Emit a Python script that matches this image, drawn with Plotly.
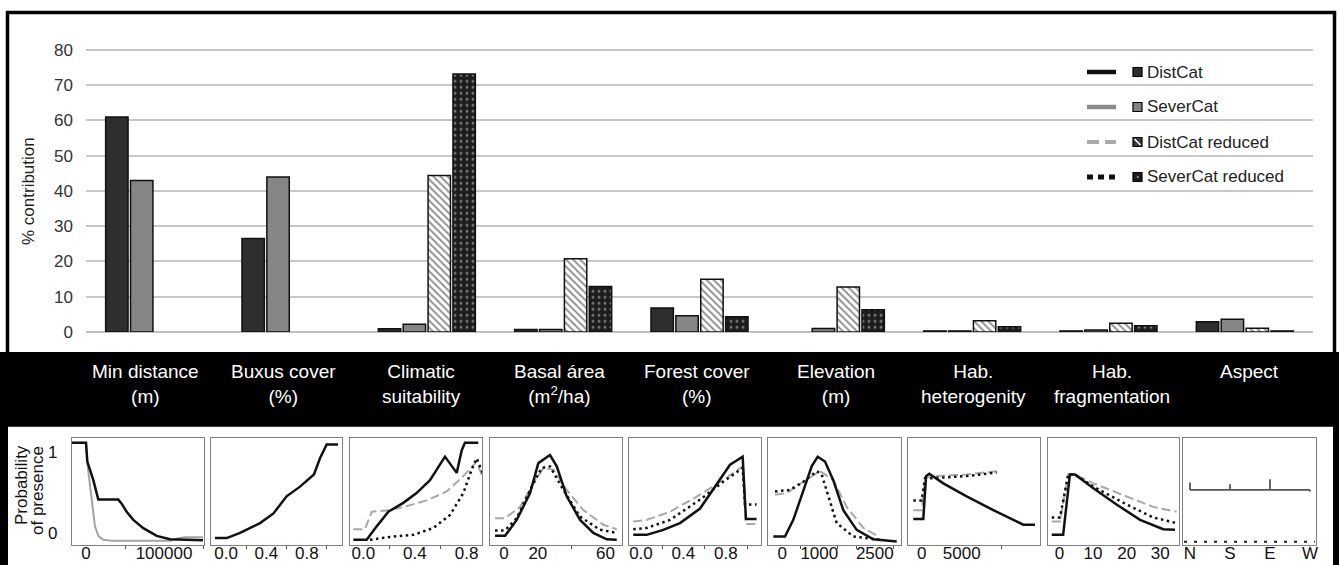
import plotly.graph_objects as go

W, H = 1339, 565
FONT = "Arial, Liberation Sans, sans-serif"

# ---------------- contribution of each variable (%) ----------------
categories = ["Min distance<br>(m)", "Buxus cover<br>(%)", "Climatic<br>suitability",
              "Basal área<br>(m<sup>2</sup>/ha)", "Forest cover<br>(%)", "Elevation<br>(m)",
              "Hab.<br>heterogenity", "Hab.<br>fragmentation", "Aspect"]
distcat = [61.0, 26.5, 0.9, 0.7, 6.8, None, 0.3, 0.3, 2.9]
severcat = [43.0, 44.0, 2.2, 0.7, 4.6, 1.0, 0.3, 0.6, 3.6]
distcat_red = [None, None, 44.4, 20.8, 15.0, 12.8, 3.2, 2.5, 1.1]
severcat_red = [None, None, 73.2, 12.9, 4.3, 6.3, 1.5, 1.8, 0.3]
y_ticks = [0, 10, 20, 30, 40, 50, 60, 70, 80]

# ---------------- response curves (probability of presence) ----------------
# Min distance (m)
md_dc_x = [-17900, 0, 1700, 9400, 15800, 41400, 45700, 52100, 60700, 73500, 90600, 107700, 150000]
md_dc_y = [1.11, 1.11, 0.88, 0.65, 0.41, 0.41, 0.36, 0.26, 0.16, 0.058, -0.037, -0.078, -0.09]
md_sc_x = [-17900, 0, 1700, 5100, 8500, 11500, 15800, 22200, 35000, 107700, 118300, 126900, 150000]
md_sc_y = [1.11, 1.11, 0.86, 0.57, 0.28, 0.08, -0.037, -0.086, -0.099, -0.099, -0.065, -0.053, -0.053]
# Buxus cover (%)
bx_dc_x = [-0.11, 0.007, 0.139, 0.337, 0.47, 0.6, 0.733, 0.871, 0.931, 0.997, 1.11]
bx_dc_y = [-0.065, -0.065, 0.0, 0.12, 0.24, 0.45, 0.57, 0.72, 0.92, 1.09, 1.09]
# Climatic suitability
cs_dc_x = [-0.077, 0.026, 0.104, 0.194, 0.31, 0.413, 0.517, 0.633, 0.724, 0.763, 0.788, 0.891]
cs_dc_y = [-0.086, -0.086, 0.08, 0.26, 0.37, 0.49, 0.65, 0.94, 0.74, 1.02, 1.11, 1.11]
cs_dcr_x = [-0.077, 0.013, 0.065, 0.207, 0.336, 0.491, 0.646, 0.775, 0.879, 0.925]
cs_dcr_y = [0.045, 0.045, 0.26, 0.28, 0.33, 0.40, 0.51, 0.70, 0.88, 0.68]
cs_scr_x = [0.052, 0.207, 0.388, 0.543, 0.672, 0.775, 0.84, 0.879, 0.925]
cs_scr_y = [-0.086, -0.05, -0.025, 0.06, 0.22, 0.49, 0.78, 0.92, 0.74]
# Basal area (m2/ha)
ba_dc_x = [-5.3, 0.6, 7.5, 15.4, 20.3, 27.2, 31.2, 37.1, 45.0, 52.8, 60.8, 66.7]
ba_dc_y = [-0.037, -0.037, 0.16, 0.49, 0.86, 0.96, 0.82, 0.45, 0.16, 0.0, -0.08, -0.086]
ba_dcr_x = [-5.3, 0.6, 9.5, 17.3, 23.3, 29.2, 37.1, 46.9, 58.8, 66.7]
ba_dcr_y = [0.18, 0.18, 0.32, 0.61, 0.80, 0.78, 0.53, 0.28, 0.10, 0.045]
ba_scr_x = [-5.3, 0.6, 7.5, 16.4, 22.3, 27.2, 35.1, 45.0, 56.8, 66.7]
ba_scr_y = [0.03, 0.03, 0.18, 0.57, 0.80, 0.82, 0.53, 0.20, 0.037, 0.0]
# Forest cover (%)
fc_dc_x = [-0.073, 0.054, 0.21, 0.368, 0.557, 0.745, 0.84, 0.959, 0.981, 0.99, 1.09]
fc_dc_y = [-0.025, -0.025, 0.037, 0.12, 0.30, 0.65, 0.84, 0.94, 0.28, 0.17, 0.17]
fc_dcr_x = [-0.073, 0.054, 0.274, 0.557, 0.776, 0.959, 0.99, 1.09]
fc_dcr_y = [0.14, 0.16, 0.26, 0.47, 0.65, 0.82, 0.11, 0.11]
fc_scr_x = [-0.073, 0.054, 0.274, 0.557, 0.776, 0.959, 0.981, 1.09]
fc_scr_y = [0.045, 0.06, 0.16, 0.41, 0.63, 0.80, 0.35, 0.35]
# Elevation (m)
el_dc_x = [-243, 73, 297, 568, 795, 957, 1154, 1378, 1649, 2011, 2460, 3092]
el_dc_y = [-0.045, -0.045, 0.16, 0.53, 0.82, 0.94, 0.88, 0.65, 0.28, 0.037, -0.08, -0.107]
el_dcr_x = [-197, 119, 568, 1019, 1378, 1741, 2190, 2595]
el_dcr_y = [0.47, 0.49, 0.63, 0.76, 0.65, 0.32, 0.06, -0.045]
el_scr_x = [-197, 208, 568, 930, 1065, 1243, 1470, 1919, 2641]
el_scr_y = [0.51, 0.53, 0.63, 0.76, 0.72, 0.45, 0.12, -0.045, -0.086]
# Habitat heterogeneity
hh_dc_x = [-1050, 200, 540, 950, 2700, 5620, 8950, 12700, 14160]
hh_dc_y = [0.17, 0.17, 0.70, 0.73, 0.61, 0.45, 0.28, 0.10, 0.10]
hh_dcr_x = [-1050, 0, 410, 1450, 5620, 9370]
hh_dcr_y = [0.28, 0.28, 0.675, 0.70, 0.72, 0.76]
hh_scr_x = [-1050, 0, 410, 1450, 5620, 9370]
hh_scr_y = [0.40, 0.40, 0.675, 0.675, 0.70, 0.745]
# Habitat fragmentation
hf_dc_x = [-2.3, 1.1, 3.1, 4.6, 10.1, 17.0, 24.0, 30.9, 34.4]
hf_dc_y = [-0.025, -0.025, 0.72, 0.72, 0.55, 0.35, 0.16, 0.045, 0.037]
hf_dcr_x = [-2.3, 0.15, 2.6, 4.6, 10.1, 20.0, 27.9, 34.9]
hf_dcr_y = [0.14, 0.14, 0.72, 0.72, 0.61, 0.45, 0.32, 0.26]
hf_scr_x = [-2.3, 0.15, 2.6, 4.6, 10.1, 20.0, 27.9, 34.9]
hf_scr_y = [0.19, 0.19, 0.72, 0.72, 0.57, 0.35, 0.19, 0.12]
# Aspect (factor levels)
aspect_levels = ["N", "S", "E", "W"]
aspect_resp = [0.62, 0.60, 0.66, 0.51]
aspect_base = 0.53
aspect_red = [-0.11, -0.11, -0.11, -0.11]


def fx(px):
    return px / W


def fy(py):
    return 1 - py / H


LINE = {
    "dc": dict(color="#111111", width=2.5),
    "sc": dict(color="#a3a3a3", width=2),
    "dcr": dict(color="#a8a8a8", width=2, dash="9px,4px"),
    "scr": dict(color="#111111", width=2.5, dash="2.5px,3.5px"),
}

fig = go.Figure()

# ---------------- bar chart ----------------
bar_series = [
    ("DistCat", distcat, dict(color="#2e2e2e")),
    ("SeverCat", severcat, dict(color="#858585")),
    ("DistCat reduced", distcat_red,
     dict(color="white", pattern=dict(shape="\\", fgcolor="#222222", size=5, solidity=0.4))),
    ("SeverCat reduced", severcat_red,
     dict(color="#1c1c1c", pattern=dict(shape=".", fgcolor="#d0d0d0", size=6, solidity=0.2))),
]
for name, vals, mk in bar_series:
    mk = dict(mk, line=dict(color="#111111", width=1.5))
    fig.add_trace(go.Bar(x=categories, y=vals, name=name, marker=mk,
                         xaxis="x", yaxis="y", showlegend=False))

layout_axes = dict(
    xaxis=dict(domain=[fx(86), fx(1313)], categoryorder="array", categoryarray=categories,
               showticklabels=False, showgrid=False, zeroline=False, showline=False, ticks="",
               automargin=False),
    yaxis=dict(domain=[fy(332), fy(332 - 80.5 * 3.525)], range=[0, 80.5], tickvals=y_ticks,
               showgrid=True, gridcolor="#c8c8c8", gridwidth=1.5,
               zeroline=True, zerolinecolor="#c0c0c0", zerolinewidth=1.5,
               showline=False, ticks="", ticklabelstandoff=12, automargin=False,
               tickfont=dict(size=17, color="#333333", family=FONT)),
)

# ---------------- response-curve panels ----------------
# tv/tt: labelled tick positions and their text, mv: unlabelled tick marks
panels = [
    dict(px=(72, 203.5), xr=[-17950, 150640], tv=[0, 100000], tt=["0", "100000"], mv=[50000, 150000],
         series=[(md_sc_x, md_sc_y, "sc"), (md_dc_x, md_dc_y, "dc")]),
    dict(px=(211, 342), xr=[-0.149, 1.149], tv=[0, 0.4, 0.8], tt=["0.0", "0.4", "0.8"], mv=[0.2, 0.6, 1.0],
         series=[(bx_dc_x, bx_dc_y, "dc")]),
    dict(px=(350, 482), xr=[-0.103, 0.92], tv=[0, 0.4, 0.8], tt=["0.0", "0.4", "0.8"], mv=[0.2, 0.6],
         series=[(cs_dcr_x, cs_dcr_y, "dcr"), (cs_scr_x, cs_scr_y, "scr"), (cs_dc_x, cs_dc_y, "dc")]),
    dict(px=(490, 622), xr=[-8.3, 69.8], tv=[0, 20, 60], tt=["0", "20", "60"], mv=[40],
         series=[(ba_dcr_x, ba_dcr_y, "dcr"), (ba_scr_x, ba_scr_y, "scr"), (ba_dc_x, ba_dc_y, "dc")]),
    dict(px=(629, 761), xr=[-0.113, 1.132], tv=[0, 0.4, 0.8], tt=["0.0", "0.4", "0.8"], mv=[0.2, 0.6, 1.0],
         series=[(fc_dcr_x, fc_dcr_y, "dcr"), (fc_scr_x, fc_scr_y, "scr"), (fc_dc_x, fc_dc_y, "dc")]),
    dict(px=(768, 901), xr=[-386, 3208], tv=[0, 1000, 2500], tt=["0", "1000", "2500"],
         mv=[500, 1500, 2000, 3000],
         series=[(el_dcr_x, el_dcr_y, "dcr"), (el_scr_x, el_scr_y, "scr"), (el_dc_x, el_dc_y, "dc")]),
    dict(px=(908, 1040), xr=[-1712, 14787], tv=[0, 5000], tt=["0", "5000"], mv=[10000],
         series=[(hh_dcr_x, hh_dcr_y, "dcr"), (hh_scr_x, hh_scr_y, "scr"), (hh_dc_x, hh_dc_y, "dc")]),
    dict(px=(1048, 1179), xr=[-3.42, 35.6], tv=[0, 10, 20, 30], tt=["0", "10", "20", "30"], mv=[],
         series=[(hf_dcr_x, hf_dcr_y, "dcr"), (hf_scr_x, hf_scr_y, "scr"), (hf_dc_x, hf_dc_y, "dc")]),
]

PANEL_Y = [fy(545), fy(438)]
PANEL_YR = [-0.15, 1.17]
frame_axis = dict(showline=True, mirror=True, linecolor="#808080", linewidth=1.3,
                  showgrid=False, zeroline=False, automargin=False)
tick_font = dict(size=17, color="#111111", family=FONT)

for i, p in enumerate(panels):
    k = i + 2
    xa, ya = f"x{k}", f"y{k}"
    for xs, ys, kind in p["series"]:
        fig.add_trace(go.Scatter(x=xs, y=ys, mode="lines", line=LINE[kind],
                                 xaxis=xa, yaxis=ya, showlegend=False))
    layout_axes[f"xaxis{k}"] = dict(frame_axis, domain=[fx(p["px"][0]), fx(p["px"][1])], range=p["xr"],
                                    anchor=ya, tickmode="array", tickvals=p["tv"], ticktext=p["tt"],
                                    ticks="", tickangle=0,
                                    minor=dict(tickmode="array", tickvals=p["mv"], ticks="outside",
                                               ticklen=3, tickcolor="#555555", tickwidth=1),
                                    ticklabelstandoff=-8, tickfont=tick_font)
    yax = dict(frame_axis, domain=PANEL_Y, range=PANEL_YR, anchor=xa, showticklabels=False, ticks="")
    if i == 0:
        yax.update(showticklabels=True, tickvals=[0, 1], ticktext=["0", "1"], ticklabelstandoff=10,
                   tickfont=tick_font)
    layout_axes[f"yaxis{k}"] = yax

# Aspect panel: factor response drawn as spikes rising from a common baseline
asp_x, asp_y = [], []
for j, v in enumerate(aspect_resp):
    pos = j + 1
    asp_x += [pos, pos, None]
    asp_y += [v, aspect_base, None]
fig.add_trace(go.Scatter(x=asp_x, y=asp_y, mode="lines", line=dict(color="#555555", width=1.8),
                         xaxis="x10", yaxis="y10", showlegend=False))
fig.add_trace(go.Scatter(x=[1, 4], y=[aspect_base, aspect_base], mode="lines",
                         line=dict(color="#555555", width=1.8), xaxis="x10", yaxis="y10", showlegend=False))
fig.add_trace(go.Scatter(x=[0.85, 2, 3, 4.12], y=aspect_red, mode="lines",
                         line=dict(color="#222222", width=2, dash="3px,7px"),
                         xaxis="x10", yaxis="y10", showlegend=False))
layout_axes["xaxis10"] = dict(frame_axis, domain=[fx(1183), fx(1316)], range=[0.825, 4.15], anchor="y10",
                              tickmode="array", tickvals=[1, 2, 3, 4], ticktext=aspect_levels, ticks="",
                              tickangle=0, ticklabelstandoff=-8, tickfont=tick_font)
layout_axes["yaxis10"] = dict(frame_axis, domain=PANEL_Y, range=PANEL_YR, anchor="x10",
                              showticklabels=False, ticks="")

# ---------------- frame, band, legend ----------------
shapes = [
    dict(type="rect", xref="paper", yref="paper", x0=fx(7.5), x1=fx(1334.5), y0=fy(425), y1=fy(12.5),
         line=dict(color="black", width=3.5), fillcolor="rgba(0,0,0,0)"),
    dict(type="rect", xref="paper", yref="paper", x0=0, x1=1, y0=fy(425), y1=fy(352),
         line=dict(width=0), fillcolor="black"),
    dict(type="rect", xref="paper", yref="paper", x0=0, x1=fx(8), y0=0, y1=fy(425),
         line=dict(width=0), fillcolor="black"),
    dict(type="rect", xref="paper", yref="paper", x0=fx(1333), x1=1, y0=0, y1=fy(425),
         line=dict(width=0), fillcolor="black"),
]

annotations = []
legend_items = [
    ("DistCat", dict(color="#111111", width=4.5), "#2e2e2e"),
    ("SeverCat", dict(color="#8a8a8a", width=4.5), "#858585"),
    ("DistCat reduced", dict(color="#ababab", width=4, dash="12px,6px"), "#3a3a3a"),
    ("SeverCat reduced", dict(color="#111111", width=5, dash="6px,5px"), "#1c1c1c"),
]
for j, (label, ln, fill) in enumerate(legend_items):
    yc = 72 + 35 * j
    shapes.append(dict(type="line", xref="paper", yref="paper", x0=fx(1087), x1=fx(1116),
                       y0=fy(yc), y1=fy(yc), line=ln))
    shapes.append(dict(type="rect", xref="paper", yref="paper", x0=fx(1133), x1=fx(1142),
                       y0=fy(yc + 4.5), y1=fy(yc - 4.5), fillcolor=fill,
                       line=dict(color="black", width=1.2)))
    if j == 2:
        shapes.append(dict(type="line", xref="paper", yref="paper", x0=fx(1134.5), x1=fx(1140.5),
                           y0=fy(yc - 3), y1=fy(yc + 3), line=dict(color="white", width=1.5)))
    if j == 3:
        shapes.append(dict(type="rect", xref="paper", yref="paper", x0=fx(1137), x1=fx(1138.5),
                           y0=fy(yc + 0.8), y1=fy(yc - 0.8), fillcolor="#cccccc", line=dict(width=0)))
    annotations.append(dict(xref="paper", yref="paper", x=fx(1145), y=fy(yc), xanchor="left",
                            yanchor="middle", text=label, showarrow=False,
                            font=dict(size=17, color="#222222", family=FONT)))

# variable names in the black band
for i, cat in enumerate(categories):
    annotations.append(dict(xref="paper", yref="paper", x=fx(145 + i * 138.1), y=fy(359),
                            xanchor="center", yanchor="top", text=cat, showarrow=False,
                            align="center", font=dict(size=19, color="white", family=FONT)))

annotations.append(dict(xref="paper", yref="paper", x=fx(28), y=fy(191), text="% contribution",
                        textangle=-90, showarrow=False, xanchor="center", yanchor="middle",
                        font=dict(size=17, color="#222222", family=FONT)))
annotations.append(dict(xref="paper", yref="paper", x=fx(21), y=fy(485), text="Probability",
                        textangle=-90, showarrow=False, xanchor="center", yanchor="middle",
                        font=dict(size=17, color="#111111", family=FONT)))
annotations.append(dict(xref="paper", yref="paper", x=fx(37), y=fy(491), text="of presence",
                        textangle=-90, showarrow=False, xanchor="center", yanchor="middle",
                        font=dict(size=17, color="#111111", family=FONT)))

fig.update_layout(
    width=W, height=H, autosize=False,
    margin=dict(l=0, r=0, t=0, b=0, pad=0, autoexpand=False),
    paper_bgcolor="white", plot_bgcolor="white",
    barmode="group", bargap=0.27, bargroupgap=0.1,
    font=dict(family=FONT),
    shapes=shapes, annotations=annotations, showlegend=False,
    **layout_axes,
)

fig.write_html("out.html")
